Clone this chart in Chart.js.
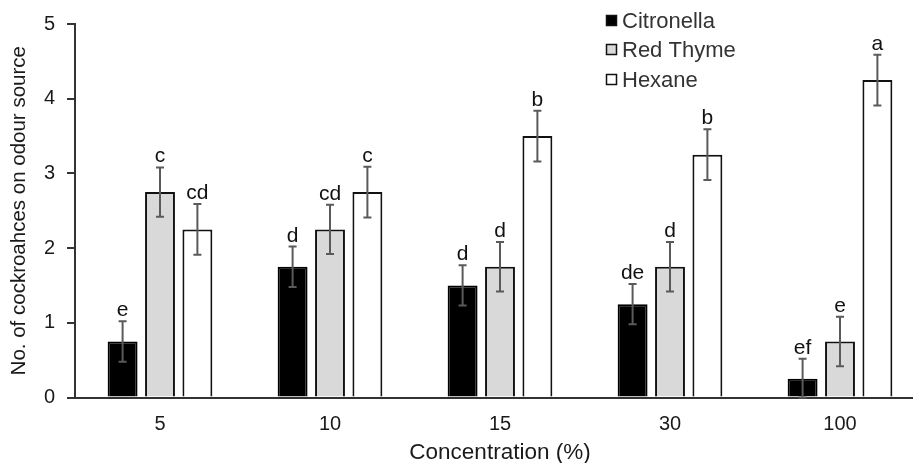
<!DOCTYPE html>
<html>
<head>
<meta charset="utf-8">
<script src="https://cdn.jsdelivr.net/npm/chart.js@4.4.1/dist/chart.umd.min.js"></script>
<style>
    html, body { margin: 0; padding: 0; background: #fff; overflow: hidden; }
    #wrap { width: 930px; height: 463px; }
</style>
</head>
<body>
<div id="wrap"><canvas id="chart"></canvas></div>
<script>
// Data
const categories = ['5', '10', '15', '30', '100'];
const seriesNames = ['Citronella', 'Red Thyme', 'Hexane'];

const citronella = [0.75, 1.75, 1.5, 1.25, 0.25];
const redThyme = [2.75, 2.25, 1.75, 1.75, 0.75];
const hexane = [2.25, 2.75, 3.5, 3.25, 4.25];

const citronellaErr = [0.27, 0.27, 0.27, 0.27, 0.27];
const redThymeErr = [0.33, 0.33, 0.33, 0.33, 0.33];
const hexaneErr = [0.34, 0.34, 0.34, 0.34, 0.34];

const citronellaLetters = ['e', 'd', 'd', 'de', 'ef'];
const redThymeLetters = ['c', 'cd', 'd', 'd', 'e'];
const hexaneLetters = ['cd', 'c', 'b', 'b', 'a'];

const yTicks = [0, 1, 2, 3, 4, 5];

const FONT = 'Liberation Sans, Arial, sans-serif';
const AXIS = '#333';

// error bars + significance letters
const errorBars = {
    id: 'errorBars',
    afterDatasetsDraw(chart) {
        const ctx = chart.ctx;
        const y = chart.scales.y;
        chart.data.datasets.forEach(function(ds, di) {
            const meta = chart.getDatasetMeta(di);
            meta.data.forEach(function(bar, i) {
                const v = ds.data[i];
                const e = ds.errors[i];
                const top = y.getPixelForValue(v + e);
                const bot = y.getPixelForValue(Math.max(v - e, 0));
                ctx.save();
                ctx.strokeStyle = '#5a5a5a';
                ctx.lineWidth = 2;
                ctx.beginPath();
                ctx.moveTo(bar.x, top);
                ctx.lineTo(bar.x, bot);
                ctx.moveTo(bar.x - 4, top);
                ctx.lineTo(bar.x + 4, top);
                ctx.moveTo(bar.x - 4, bot);
                ctx.lineTo(bar.x + 4, bot);
                ctx.stroke();
                ctx.fillStyle = '#111';
                ctx.font = '21px ' + FONT;
                ctx.textAlign = 'center';
                ctx.textBaseline = 'alphabetic';
                ctx.fillText(ds.letters[i], bar.x, top - 5);
                ctx.restore();
            });
        });
    }
};

// legend, top right inside the plot
const boxLegend = {
    id: 'boxLegend',
    afterDraw(chart) {
        const ctx = chart.ctx;
        const rows = [21, 50, 80];
        ctx.save();
        chart.data.datasets.forEach(function(ds, i) {
            const cy = rows[i];
            ctx.fillStyle = ds.backgroundColor;
            ctx.fillRect(606, cy - 6, 11, 11);
            ctx.strokeStyle = '#111';
            ctx.lineWidth = 1.5;
            ctx.strokeRect(606.5, cy - 5.5, 10, 10);
            ctx.fillStyle = '#333';
            ctx.font = '22px ' + FONT;
            ctx.textAlign = 'left';
            ctx.textBaseline = 'middle';
            ctx.fillText(ds.label, 622, cy + 1);
        });
        ctx.restore();
    }
};

const data = {
    labels: categories,
    datasets: [
        {
            label: seriesNames[0],
            data: citronella,
            errors: citronellaErr,
            letters: citronellaLetters,
            backgroundColor: '#000000',
            borderColor: '#000000',
            borderWidth: 2
        },
        {
            label: seriesNames[1],
            data: redThyme,
            errors: redThymeErr,
            letters: redThymeLetters,
            backgroundColor: '#d9d9d9',
            borderColor: '#111111',
            borderWidth: 2
        },
        {
            label: seriesNames[2],
            data: hexane,
            errors: hexaneErr,
            letters: hexaneLetters,
            backgroundColor: '#ffffff',
            borderColor: '#111111',
            borderWidth: 2
        }
    ]
};

const config = {
    type: 'bar',
    data: data,
    options: {
        responsive: true,
        maintainAspectRatio: false,
        animation: false,
        categoryPercentage: 0.66,
        barPercentage: 0.8,
        layout: { padding: { top: 20, right: 5, bottom: 0, left: 0 } },
        plugins: {
            legend: { display: false },
            tooltip: { enabled: false }
        },
        scales: {
            x: {
                grid: { display: false, drawTicks: false },
                border: { display: true, color: AXIS, width: 2 },
                ticks: {
                    color: '#1a1a1a',
                    padding: 17,
                    font: { family: FONT, size: 20, lineHeight: 1 }
                },
                title: {
                    display: true,
                    text: 'Concentration (%)',
                    color: '#1a1a1a',
                    padding: { top: -10, bottom: -1 },
                    font: { family: FONT, size: 22.5, lineHeight: 1 }
                }
            },
            y: {
                min: 0,
                max: 5,
                afterFit: function(scale) { scale.width = 75; },
                afterBuildTicks: function(scale) {
                    scale.ticks = yTicks.map(function(v) { return { value: v }; });
                },
                grid: {
                    drawOnChartArea: false,
                    drawTicks: true,
                    tickLength: 8,
                    color: AXIS,
                    lineWidth: 2
                },
                border: { display: true, color: AXIS, width: 2 },
                ticks: {
                    color: '#1a1a1a',
                    padding: 12,
                    font: { family: FONT, size: 20 }
                },
                title: {
                    display: true,
                    text: 'No. of cockroahces on odour source',
                    color: '#1a1a1a',
                    padding: { top: 9, bottom: 0 },
                    font: { family: FONT, size: 20.5, lineHeight: 1 }
                }
            }
        }
    },
    plugins: [errorBars, boxLegend]
};

const chart = new Chart(document.getElementById('chart'), config);
</script>
</body>
</html>
